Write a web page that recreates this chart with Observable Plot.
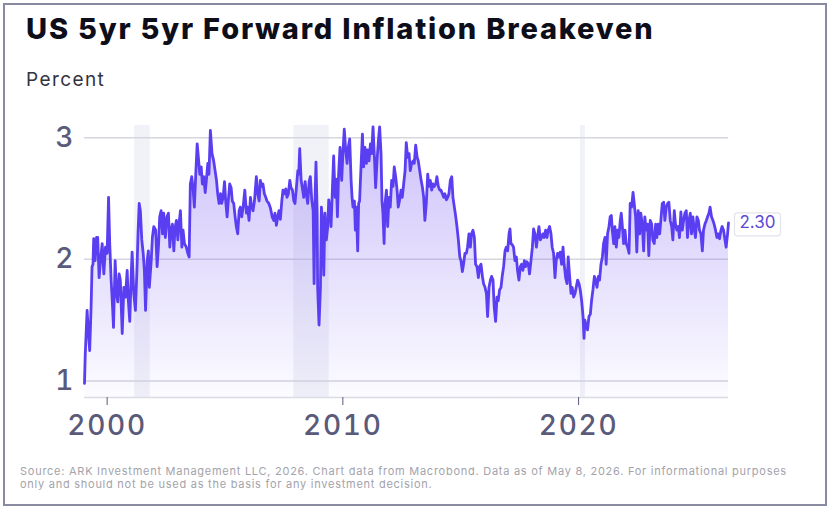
<!DOCTYPE html>
<html>
<head>
<meta charset="utf-8">
<script src="https://cdn.jsdelivr.net/npm/d3@7"></script>
<script src="https://cdn.jsdelivr.net/npm/@observablehq/plot@0.6"></script>
<style>
  html, body { margin: 0; padding: 0; background: #fff; }
  body { width: 828px; height: 507px; position: relative; overflow: hidden; font-family: Inter, "Noto Sans", sans-serif; }
  #frame { position: absolute; left: 3px; top: 3px; width: 824px; height: 503px; border: 2px solid #8a8aa3; box-sizing: border-box; }
  #title { position: absolute; left: 26px; top: 14px; font-size: 29px; line-height: 29px; font-weight: 800; color: #0e0e1a; white-space: nowrap; letter-spacing: 1.8px; }
  #subtitle { position: absolute; left: 26px; top: 70px; font-size: 19px; line-height: 19px; font-weight: 400; color: #333340; white-space: nowrap; letter-spacing: 1.4px; }
  #caption { position: absolute; left: 20px; top: 465px; font-size: 11px; line-height: 12.5px; color: #a3a3ab; white-space: nowrap; letter-spacing: 0.74px; }
  #chart { position: absolute; left: 0; top: 100px; }
  #chart svg g[aria-label="x-axis tick label"] text { letter-spacing: 1.8px; font-weight: 500; }
  #chart svg g[aria-label="y-axis tick label"] text { font-weight: 500; }
</style>
</head>
<body>
<div id="frame"></div>
<div id="title">US 5yr 5yr Forward Inflation Breakeven</div>
<div id="subtitle">Percent</div>
<div id="chart"></div>
<div id="caption">Source: ARK Investment Management LLC, 2026. Chart data from Macrobond. Data as of May 8, 2026. For informational purposes<br>only and should not be used as the basis for any investment decision.</div>
<script>
// Observations: [decimal year, percent]
const obs1999 = [[1999.04,0.98],[1999.07,1.21],[1999.15,1.58],[1999.21,1.39],[1999.26,1.25],[1999.32,1.61],[1999.36,1.94],[1999.40,1.96],[1999.43,2.17],[1999.49,1.99],[1999.55,2.18],[1999.60,2.18],[1999.66,1.85],[1999.72,1.99],[1999.79,2.13],[1999.86,1.88],[1999.93,2.10],[2000.00,2.05],[2000.06,2.51],[2000.11,2.13],[2000.17,1.83],[2000.23,1.61],[2000.27,1.44],[2000.34,1.99],[2000.40,1.72],[2000.45,1.65],[2000.51,1.88],[2000.56,1.83],[2000.64,1.39],[2000.71,1.77],[2000.78,1.69],[2000.85,1.91],[2000.90,1.66],[2000.96,1.49],[2001.02,1.86],[2001.06,2.06],[2001.13,1.72],[2001.20,1.58],[2001.27,1.94],[2001.31,2.21],[2001.36,2.46],[2001.41,2.40],[2001.47,2.16],[2001.53,2.05],[2001.58,1.91],[2001.63,1.58],[2001.70,1.99],[2001.75,2.07],[2001.79,1.77],[2001.87,1.99],[2001.92,2.18],[2001.98,2.27],[2002.06,2.24],[2002.12,1.94],[2002.18,2.11],[2002.23,2.35],[2002.29,2.40],[2002.35,2.21],[2002.40,2.38],[2002.47,2.18],[2002.54,2.35],[2002.60,2.38],[2002.66,2.10],[2002.71,2.24],[2002.77,2.29],[2002.83,2.07],[2002.88,2.26],[2002.94,2.32],[2003.00,2.16],[2003.05,2.29],[2003.11,2.40],[2003.17,2.10],[2003.22,2.24],[2003.28,2.13],[2003.36,2.10],[2003.42,2.05],[2003.48,2.02],[2003.53,2.62],[2003.59,2.68],[2003.65,2.57],[2003.70,2.43],[2003.76,2.70],[2003.82,2.95],[2003.87,2.84],[2003.93,2.70],[2003.99,2.76],[2004.04,2.62],[2004.10,2.68],[2004.16,2.55],[2004.21,2.65],[2004.27,2.79],[2004.32,2.70],[2004.38,3.06]];
const obs2004 = [[2004.45,2.87],[2004.52,2.81],[2004.58,2.73],[2004.64,2.65],[2004.69,2.54],[2004.75,2.46],[2004.81,2.54],[2004.86,2.46],[2004.92,2.51],[2004.98,2.64],[2005.03,2.48],[2005.09,2.35],[2005.14,2.48],[2005.20,2.62],[2005.26,2.59],[2005.31,2.48],[2005.37,2.46],[2005.43,2.35],[2005.48,2.27],[2005.54,2.21],[2005.60,2.40],[2005.65,2.43],[2005.71,2.35],[2005.77,2.43],[2005.84,2.57],[2005.91,2.38],[2005.96,2.43],[2006.02,2.32],[2006.08,2.51],[2006.13,2.43],[2006.19,2.40],[2006.25,2.48],[2006.33,2.68],[2006.39,2.54],[2006.45,2.48],[2006.50,2.65],[2006.56,2.60],[2006.61,2.62],[2006.67,2.54],[2006.73,2.51],[2006.78,2.48],[2006.86,2.46],[2006.93,2.42],[2007.00,2.35],[2007.07,2.32],[2007.12,2.38],[2007.18,2.28],[2007.24,2.35],[2007.29,2.40],[2007.35,2.33],[2007.41,2.48],[2007.46,2.57],[2007.52,2.54],[2007.58,2.58],[2007.63,2.51],[2007.69,2.54],[2007.75,2.65],[2007.80,2.59],[2007.86,2.57],[2007.92,2.48],[2007.97,2.46],[2008.03,2.59],[2008.09,2.73],[2008.13,2.70],[2008.17,2.91],[2008.23,2.65],[2008.28,2.59],[2008.34,2.51],[2008.40,2.64],[2008.45,2.54],[2008.51,2.46],[2008.57,2.64],[2008.62,2.68],[2008.68,2.49],[2008.74,2.40],[2008.78,1.80],[2008.82,2.49],[2008.86,2.80],[2008.91,2.38],[2008.93,1.77],[2008.99,1.46],[2009.05,1.77],[2009.09,2.43],[2009.13,2.32],[2009.19,1.87],[2009.24,2.38],[2009.30,2.16],[2009.36,2.27],[2009.40,2.49],[2009.44,2.43],[2009.50,2.27],[2009.56,2.60],[2009.61,2.85],[2009.67,2.51],[2009.72,2.66],[2009.77,2.35],[2009.82,2.70],[2009.88,2.92]];
const obs2009 = [[2009.95,2.65],[2010.01,2.90],[2010.06,3.07],[2010.12,2.90],[2010.18,2.79],[2010.23,2.92],[2010.29,2.99],[2010.35,2.65],[2010.39,2.51],[2010.43,2.43],[2010.49,2.48],[2010.53,2.24],[2010.57,2.43],[2010.63,2.07],[2010.67,2.46],[2010.71,2.48],[2010.77,2.76],[2010.83,3.03],[2010.88,2.76],[2010.94,2.92],[2011.00,2.79],[2011.05,2.90],[2011.11,2.81],[2011.17,2.95],[2011.22,2.87],[2011.28,3.09],[2011.34,2.84],[2011.39,2.59],[2011.45,2.81],[2011.51,2.98],[2011.56,3.09],[2011.62,2.87],[2011.66,2.48],[2011.70,2.38],[2011.75,2.13],[2011.79,2.46],[2011.85,2.57],[2011.90,2.27],[2011.96,2.51],[2012.01,2.43],[2012.07,2.65],[2012.13,2.60],[2012.18,2.76],[2012.24,2.68],[2012.30,2.57],[2012.35,2.43],[2012.41,2.49],[2012.47,2.57],[2012.52,2.51],[2012.58,2.62],[2012.64,2.73],[2012.69,2.96],[2012.75,2.84],[2012.81,2.87],[2012.86,2.73],[2012.92,2.79],[2012.98,2.81],[2013.03,2.79],[2013.09,2.94],[2013.15,2.84],[2013.20,2.81],[2013.26,2.73],[2013.32,2.65],[2013.37,2.60],[2013.43,2.51],[2013.48,2.32],[2013.54,2.46],[2013.60,2.70],[2013.65,2.60],[2013.71,2.65],[2013.77,2.57],[2013.82,2.62],[2013.88,2.60],[2013.94,2.62],[2013.99,2.68],[2014.05,2.60],[2014.11,2.57],[2014.16,2.57],[2014.22,2.54],[2014.28,2.51],[2014.33,2.54],[2014.39,2.49],[2014.45,2.51],[2014.50,2.54],[2014.56,2.65],[2014.62,2.68],[2014.67,2.51],[2014.73,2.43],[2014.79,2.35],[2014.84,2.27],[2014.90,2.16],[2014.96,2.02],[2015.01,1.99],[2015.07,1.90],[2015.12,1.96],[2015.18,2.05],[2015.24,2.05],[2015.29,2.10],[2015.35,2.21],[2015.41,2.10]];
const obs2015 = [[2015.46,2.21],[2015.52,2.24],[2015.58,2.18],[2015.63,1.96],[2015.69,1.94],[2015.75,1.85],[2015.80,1.94],[2015.86,1.96],[2015.92,1.86],[2015.97,1.80],[2016.03,1.77],[2016.09,1.72],[2016.14,1.53],[2016.20,1.77],[2016.26,1.83],[2016.31,1.86],[2016.37,1.83],[2016.42,1.61],[2016.48,1.49],[2016.54,1.69],[2016.59,1.66],[2016.65,1.75],[2016.71,1.77],[2016.76,1.86],[2016.82,1.94],[2016.88,2.07],[2016.93,2.10],[2016.99,2.07],[2017.05,2.21],[2017.09,2.25],[2017.13,2.13],[2017.19,2.12],[2017.24,2.10],[2017.30,1.99],[2017.36,2.02],[2017.41,1.91],[2017.47,1.83],[2017.53,1.94],[2017.58,1.96],[2017.64,1.91],[2017.70,1.99],[2017.75,1.94],[2017.81,1.98],[2017.87,1.96],[2017.92,1.88],[2017.98,1.99],[2018.04,2.10],[2018.09,2.25],[2018.15,2.21],[2018.21,2.10],[2018.26,2.18],[2018.32,2.27],[2018.38,2.16],[2018.43,2.18],[2018.49,2.21],[2018.54,2.18],[2018.60,2.24],[2018.66,2.18],[2018.71,2.24],[2018.77,2.27],[2018.83,2.21],[2018.88,2.10],[2018.94,2.05],[2019.00,1.85],[2019.05,1.99],[2019.11,2.05],[2019.17,2.02],[2019.22,2.06],[2019.28,1.96],[2019.34,2.10],[2019.39,1.96],[2019.45,1.85],[2019.51,1.80],[2019.56,2.02],[2019.62,1.86],[2019.68,1.72],[2019.73,1.77],[2019.79,1.69],[2019.85,1.72],[2019.90,1.77],[2019.96,1.83],[2020.02,1.80],[2020.07,1.75],[2020.13,1.66],[2020.19,1.53],[2020.23,1.35],[2020.27,1.50],[2020.33,1.44],[2020.38,1.42],[2020.44,1.53],[2020.50,1.55],[2020.55,1.66],[2020.61,1.75],[2020.67,1.86],[2020.72,1.83],[2020.78,1.77],[2020.84,1.86],[2020.89,1.83],[2020.95,1.96],[2021.01,2.02],[2021.06,2.13]];
const obs2021 = [[2021.12,2.18],[2021.17,1.96],[2021.23,2.21],[2021.29,2.27],[2021.34,2.35],[2021.39,2.36],[2021.43,2.24],[2021.49,2.13],[2021.54,2.27],[2021.60,2.10],[2021.66,2.24],[2021.71,2.18],[2021.77,2.32],[2021.81,2.38],[2021.85,2.29],[2021.91,2.13],[2021.97,2.24],[2022.02,2.13],[2022.08,2.10],[2022.14,2.05],[2022.19,2.46],[2022.25,2.43],[2022.31,2.55],[2022.36,2.46],[2022.42,2.35],[2022.47,2.06],[2022.53,2.40],[2022.59,2.21],[2022.64,2.38],[2022.70,2.29],[2022.76,2.07],[2022.81,2.35],[2022.87,2.24],[2022.93,2.29],[2022.98,2.03],[2023.04,2.32],[2023.10,2.29],[2023.15,2.16],[2023.21,2.13],[2023.27,2.29],[2023.32,2.18],[2023.38,2.29],[2023.44,2.21],[2023.49,2.32],[2023.55,2.46],[2023.61,2.47],[2023.66,2.32],[2023.72,2.43],[2023.78,2.46],[2023.83,2.47],[2023.89,2.32],[2023.95,2.27],[2024.00,2.16],[2024.06,2.40],[2024.11,2.29],[2024.17,2.24],[2024.23,2.27],[2024.28,2.18],[2024.34,2.39],[2024.40,2.24],[2024.45,2.31],[2024.51,2.38],[2024.57,2.40],[2024.62,2.18],[2024.68,2.32],[2024.74,2.38],[2024.79,2.21],[2024.85,2.35],[2024.91,2.24],[2024.96,2.18],[2025.02,2.35],[2025.08,2.32],[2025.13,2.24],[2025.19,2.21],[2025.25,2.07],[2025.30,2.24],[2025.36,2.29],[2025.42,2.32],[2025.47,2.35],[2025.53,2.38],[2025.58,2.43],[2025.64,2.35],[2025.70,2.32],[2025.75,2.29],[2025.81,2.24],[2025.87,2.18],[2025.92,2.21],[2025.98,2.17],[2026.04,2.24],[2026.09,2.27],[2026.15,2.24],[2026.21,2.16],[2026.26,2.10],[2026.32,2.21],[2026.36,2.30]];

// US recessions (shaded)
const recessionStart = [2001.17, 2007.92, 2020.08];
const recessionEnd   = [2001.83, 2009.42, 2020.29];

// Axis ticks
const yTicks = [1, 2, 3];
const xTicks = [2000, 2010, 2020];
const yDomain = [0.864, 3.101];

const data = [...obs1999, ...obs2004, ...obs2009, ...obs2015, ...obs2021].map(([t, v]) => ({t, v}));
const recessions = recessionStart.map((s, i) => ({s, e: recessionEnd[i]}));
const last = data[data.length - 1];

function gradientDefs() {
  const ns = "http://www.w3.org/2000/svg";
  const defs = document.createElementNS(ns, "defs");
  const g = document.createElementNS(ns, "linearGradient");
  g.setAttribute("id", "areaGrad");
  g.setAttribute("x1", "0"); g.setAttribute("y1", "0");
  g.setAttribute("x2", "0"); g.setAttribute("y2", "1");
  [[0, 0.34], [0.5, 0.18], [1, 0.02]].forEach(([o, a]) => {
    const s = document.createElementNS(ns, "stop");
    s.setAttribute("offset", o);
    s.setAttribute("stop-color", "#6a48f2");
    s.setAttribute("stop-opacity", a);
    g.appendChild(s);
  });
  defs.appendChild(g);
  return defs;
}

const chart = Plot.plot({
  width: 828,
  height: 345,
  marginLeft: 84,
  marginRight: 100,
  marginTop: 25,
  marginBottom: 48,
  style: {fontFamily: "Inter, 'Noto Sans', sans-serif", background: "transparent", overflow: "visible"},
  x: {domain: d3.extent(data, d => d.t)},
  y: {domain: yDomain},
  marks: [
    gradientDefs,
    Plot.rect(recessions, {x1: "s", x2: "e", fill: "#e6e8f3", fillOpacity: 0.55}),
    Plot.gridY(yTicks, {stroke: "#d6d6e0", strokeOpacity: 1, strokeWidth: 1.5}),
    Plot.ruleY([yDomain[0]], {stroke: "#dcdce4", strokeWidth: 1.5}),
    Plot.areaY(data, {x: "t", y1: yDomain[0], y2: "v", fill: "url(#areaGrad)"}),
    Plot.lineY(data, {x: "t", y: "v", stroke: "#5a3ff2", strokeWidth: 2.8, strokeLinejoin: "round"}),
    Plot.axisY(yTicks, {tickSize: 0, tickPadding: 11, fontSize: 28, color: "#5a5a7a", tickFormat: d => String(d), label: null}),
    Plot.axisX(xTicks, {tickSize: 8, tickPadding: 10, fontSize: 28, color: "#5a5a7a", tickFormat: d => String(d), label: null}),
    Plot.text([last], {x: "t", y: "v", text: d => d.v.toFixed(2), dx: 29, fill: "#5b4ad6", fontSize: 17, textAnchor: "middle"})
  ]
});

document.getElementById("chart").appendChild(chart);

// Box behind the last-value label
const labelText = chart.querySelector('g[aria-label="text"] text');
if (labelText) {
  const bb = labelText.getBBox();
  const ns = "http://www.w3.org/2000/svg";
  const r = document.createElementNS(ns, "rect");
  r.setAttribute("x", bb.x - 5);
  r.setAttribute("y", bb.y + 0.5);
  r.setAttribute("width", bb.width + 10);
  r.setAttribute("height", bb.height + 3);
  r.setAttribute("rx", 3);
  r.setAttribute("fill", "#fff");
  r.setAttribute("stroke", "#e3e3ec");
  r.setAttribute("stroke-width", 1.2);
  const tf = labelText.getAttribute("transform");
  if (tf) r.setAttribute("transform", tf);
  labelText.parentNode.insertBefore(r, labelText);
}
</script>
</body>
</html>
